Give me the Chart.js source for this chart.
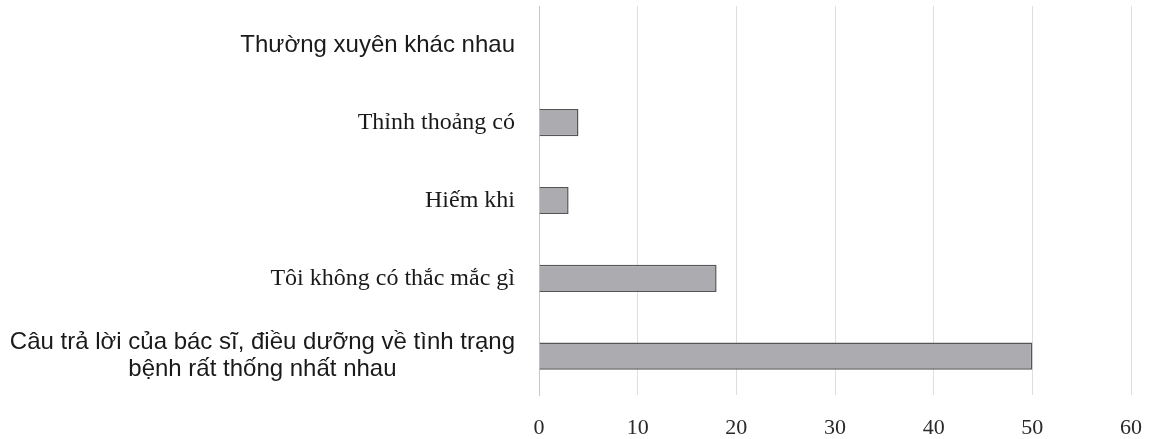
<!DOCTYPE html>
<html>
<head>
<meta charset="utf-8">
<script src="https://cdn.jsdelivr.net/npm/chart.js@4"></script>
<style>
  html, body { margin: 0; padding: 0; background: #fff; }
  #wrap { width: 1157px; height: 439px; }
</style>
</head>
<body>
<div id="wrap"><canvas id="barChart"></canvas></div>
<script>
// dữ liệu
var categories = [
    'Thường xuyên khác nhau',
    'Thỉnh thoảng có',
    'Hiếm khi',
    'Tôi không có thắc mắc gì',
    ['Câu trả lời của bác sĩ, điều dưỡng về tình trạng', 'bệnh rất thống nhất nhau']
];
var counts = [0, 4, 3, 18, 50];
var xTicks = [0, 10, 20, 30, 40, 50, 60];

// font cho từng nhãn (bản gốc trộn sans và serif)
var labelFonts = [
    '24px "Liberation Sans", Arial, sans-serif',
    '24px "Liberation Serif", serif',
    '24px "Liberation Serif", serif',
    '24px "Liberation Serif", serif',
    '24px "Liberation Sans", Arial, sans-serif'
];

// vẽ nhãn trục y, nhãn nhiều dòng thì canh giữa
var yLabels = {
    id: 'yLabels',
    afterDraw: function(chart) {
        var ctx = chart.ctx;
        var yScale = chart.scales.y;
        var right = 515;
        var lineH = 27;
        ctx.save();
        ctx.fillStyle = '#1a1a1a';
        ctx.textBaseline = 'middle';
        ctx.textAlign = 'center';
        categories.forEach(function(label, i) {
            var lines = Array.isArray(label) ? label : [label];
            ctx.font = labelFonts[i];
            var w = Math.max.apply(null, lines.map(function(l) { return ctx.measureText(l).width; }));
            var cx = right - w / 2;
            var cy = yScale.getPixelForValue(i);
            var top = cy - (lines.length - 1) * lineH / 2;
            lines.forEach(function(l, j) {
                ctx.fillText(l, cx, top + j * lineH);
            });
        });
        ctx.restore();
    }
};

var ctx = document.getElementById('barChart').getContext('2d');
var barChart = new Chart(ctx, {
    type: 'bar',
    data: {
        labels: categories,
        datasets: [{
            data: counts,
            backgroundColor: '#ababb0',
            borderColor: '#555555',
            borderWidth: 1.5,
            categoryPercentage: 1,
            barPercentage: 0.35
        }]
    },
    options: {
        indexAxis: 'y',
        responsive: true,
        maintainAspectRatio: false,
        animation: false,
        layout: { padding: { top: 6, right: 26, bottom: 1, left: 0 } },
        plugins: {
            legend: { display: false },
            tooltip: { enabled: false }
        },
        scales: {
            x: {
                min: 0,
                max: 60,
                afterBuildTicks: function(scale) {
                    scale.ticks = xTicks.map(function(v) { return { value: v }; });
                },
                afterFit: function(scale) {
                    scale.height = 43;
                    scale.paddingRight = 0;
                    scale.paddingLeft = 0;
                },
                grid: {
                    color: function(c) { return c.tick && c.tick.value === 0 ? 'rgba(0,0,0,0)' : '#dedede'; },
                    drawTicks: false
                },
                border: { display: false },
                ticks: {
                    padding: 20,
                    color: '#2a2a2a',
                    font: { family: '"Liberation Serif", serif', size: 22 }
                }
            },
            y: {
                afterFit: function(scale) { scale.width = 539; },
                grid: { display: false },
                border: { display: true, color: '#c8c8c8', dash: [2, 2] },
                ticks: { display: false }
            }
        }
    },
    plugins: [yLabels]
});
</script>
</body>
</html>
